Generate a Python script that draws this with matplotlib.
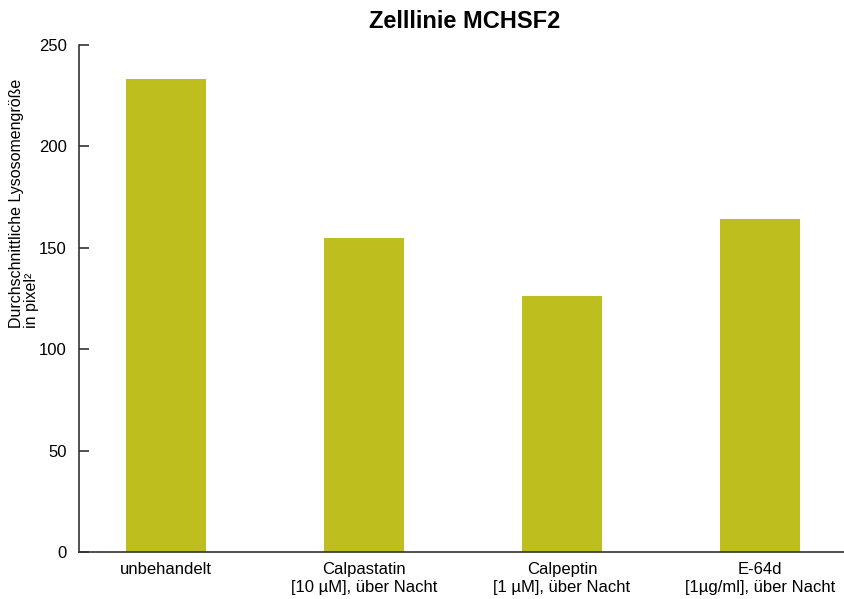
import matplotlib
matplotlib.use("Agg")
import matplotlib.pyplot as plt

categories = ["unbehandelt",
              "Calpastatin\n[10 µM], über Nacht",
              "Calpeptin\n[1 µM], über Nacht",
              "E-64d\n[1µg/ml], über Nacht"]
values = [233, 155, 126, 164]
yticks = [0, 50, 100, 150, 200, 250]

plt.rcParams['font.family'] = ['Liberation Sans', 'DejaVu Sans']

W, H = 845, 599
fig = plt.figure(figsize=(W / 100, H / 100), dpi=100)
ax = fig.add_axes([0.0935, 0.0785, 0.9065, 0.8465])
x = range(len(categories))
ax.bar(x, values, width=0.403, color='#BEBE1E')
ax.set_xlim(-0.44, 3.43)
ax.set_ylim(0, 250)
ax.set_yticks(yticks)
ax.set_xticks(list(x))
ax.set_xticklabels(categories, fontsize=12, linespacing=1.3)
ax.tick_params(axis='x', length=0, pad=7)
ax.tick_params(axis='y', direction='in', length=7, width=1.2, labelsize=12,
               pad=9, color='#333333')
for s in ['top', 'right']:
    ax.spines[s].set_visible(False)
for s in ['left', 'bottom']:
    ax.spines[s].set_color('#333333')
    ax.spines[s].set_linewidth(1.2)
fig.text(24 / W, 1 - 328 / H, "Durchschnittliche Lysosomengröße\nin pixel²",
         rotation=90, rotation_mode='anchor', ha='left', va='center',
         multialignment='left', fontsize=11.5, linespacing=1.05)
fig.text(465 / W, 1 - 21 / H, "Zelllinie MCHSF2", fontsize=17,
         fontweight='bold', ha='center', va='center')
fig.savefig("out.png", dpi=100)
